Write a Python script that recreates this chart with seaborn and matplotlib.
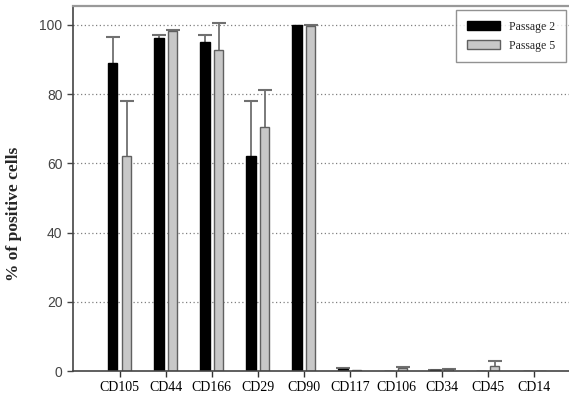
import numpy as np
import pandas as pd
import seaborn as sns
import matplotlib.pyplot as plt

# -------------------------
# Data
# -------------------------
markers = ["CD105", "CD44", "CD166", "CD29", "CD90",
           "CD117", "CD106", "CD34", "CD45", "CD14"]
passage2 = [89.0, 96.2, 95.2, 62.0, 100.0, 0.6, 0.0, 0.3, 0.1, 0.0]
passage5 = [62.0, 98.2, 92.7, 70.4, 99.6, 0.2, 0.9, 0.5, 1.5, 0.0]
passage2_err = [7.6, 1.0, 2.0, 16.0, 0.0, 0.3, 0.0, 0.1, 0.0, 0.0]
passage5_err = [16.0, 0.4, 7.8, 10.7, 0.3, 0.0, 0.3, 0.2, 1.5, 0.0]
series = ["Passage 2", "Passage 5"]

df = pd.DataFrame({
    "marker": markers * 2,
    "value": passage2 + passage5,
    "passage": [series[0]] * len(markers) + [series[1]] * len(markers),
})
errors = [passage2_err, passage5_err]

# -------------------------
# Plot
# -------------------------
sns.set_style("white")
fig = plt.figure(figsize=(5.69, 4.03), dpi=100)
ax = fig.add_axes([0.128, 0.0794, 0.872, 0.906])

sns.barplot(
    data=df, x="marker", y="value", hue="passage",
    palette=["black", "#c8c8c8"], width=0.6, gap=1 / 3,
    saturation=1, ax=ax, legend=False, zorder=2,
)

edge_colors = ["black", "#606060"]
for container, err, ec in zip(ax.containers, errors, edge_colors):
    xs, ys, es = [], [], []
    for bar, e in zip(container.patches, err):
        bar.set_edgecolor(ec)
        bar.set_linewidth(1.0)
        if e > 0:
            xs.append(bar.get_x() + bar.get_width() / 2)
            ys.append(bar.get_height())
            es.append(e)
    eb = ax.errorbar(xs, ys, yerr=[np.zeros(len(es)), es], fmt="none",
                     ecolor="#707070", elinewidth=1.3, capsize=5,
                     capthick=1.5, zorder=1)
    # only the upper cap is visible in the original
    eb[1][0].set_visible(False)

ax.set_xlim(-1.02, 9.76)
ax.set_ylim(0, 105.5)
ax.set_yticks([0, 20, 40, 60, 80, 100])
for y in [20, 40, 60, 80, 100]:
    ax.axhline(y, color="#808080", linestyle=(0, (1, 2)), linewidth=0.9,
               zorder=0)

ax.set_xlabel("")
ax.set_ylabel("% of positive cells", fontfamily="Liberation Serif",
              fontweight="bold", fontsize=12.5)
ax.yaxis.set_label_coords(-0.103, 0.43)

ax.tick_params(axis="y", direction="out", length=4, width=1,
               colors="#444444", labelsize=10, left=True)
ax.tick_params(axis="x", direction="out", length=4, width=1,
               colors="#333333", labelsize=10, bottom=True)
for lab in ax.get_xticklabels():
    lab.set_fontfamily("Liberation Serif")
    lab.set_color("black")
for lab in ax.get_yticklabels():
    lab.set_fontfamily("Liberation Sans")

for side in ["left", "bottom"]:
    ax.spines[side].set_color("#444444")
    ax.spines[side].set_linewidth(1.2)
ax.spines["top"].set_color("#999999")
ax.spines["top"].set_linewidth(1.6)
ax.spines["right"].set_visible(False)

leg = ax.legend(
    handles=list(ax.containers), labels=series,
    loc="upper right", bbox_to_anchor=(0.995, 0.975),
    bbox_transform=fig.transFigure, borderaxespad=0,
    prop={"family": "Liberation Serif", "size": 8.5},
    handlelength=2.8, handleheight=0.8, labelspacing=0.6,
    borderpad=0.9, handletextpad=0.8, fancybox=False,
    frameon=True, edgecolor="#777777",
)
leg.get_frame().set_linewidth(1.0)

fig.savefig("out.png", dpi=100)
